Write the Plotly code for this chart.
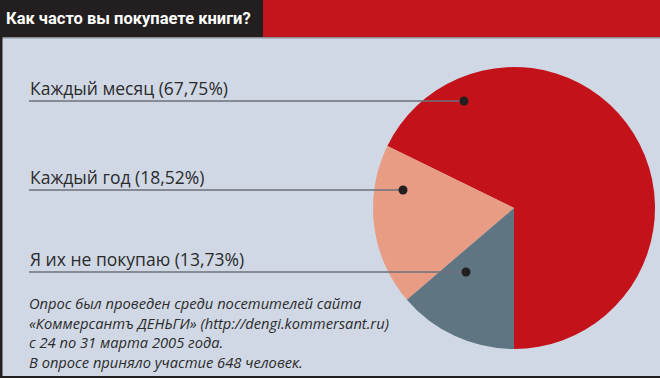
import plotly.graph_objects as go

W, H = 660, 378

# ---- data ----
categories = ["Каждый месяц", "Каждый год", "Я их не покупаю"]
values = [67.75, 18.52, 13.73]
slice_colors = ["#c4121b", "#e89c84", "#5f7582"]
title_text = "Как часто вы покупаете книги?"
note_lines = [
    "Опрос был проведен среди посетителей сайта",
    "«Коммерсантъ ДЕНЬГИ» (http://dengi.kommersant.ru)",
    "с 24 по 31 марта 2005 года.",
    "В опросе приняло участие 648 человек.",
]

# ---- layout helpers (pixel -> paper) ----
def px(x):
    return x / W

def py(y):
    return 1 - y / H

BG = "#d0d8e5"
DARK = "#231f20"
RED = "#c4141c"
LABEL_FONT = "Open Sans, Liberation Sans, Arial, sans-serif"

cx, cy, r = 514, 208, 141

# first slice ends at 6 o'clock, slices run counterclockwise from its start
total = sum(values)
rotation = 180 - 360 * values[0] / total

fig = go.Figure()
fig.add_trace(go.Pie(
    labels=categories,
    values=values,
    marker=dict(colors=slice_colors, line=dict(width=0)),
    sort=False,
    direction="counterclockwise",
    rotation=rotation,
    textinfo="none",
    hoverinfo="label+percent",
    showlegend=False,
    domain=dict(x=[px(cx - r), px(cx + r)], y=[py(cy + r), py(cy - r)]),
))

shapes = []
# header
shapes.append(dict(type="rect", xref="paper", yref="paper", x0=0, x1=px(263), y0=py(37), y1=1,
                   fillcolor=DARK, line=dict(width=0), layer="below"))
shapes.append(dict(type="rect", xref="paper", yref="paper", x0=px(263), x1=1, y0=py(37), y1=1,
                   fillcolor=RED, line=dict(width=0), layer="below"))
shapes.append(dict(type="rect", xref="paper", yref="paper", x0=0, x1=1, y0=py(38.5), y1=py(37),
                   fillcolor="#8a8e96", line=dict(width=0), layer="below"))
# left and bottom borders
shapes.append(dict(type="rect", xref="paper", yref="paper", x0=0, x1=px(2.5), y0=0, y1=py(37),
                   fillcolor=DARK, line=dict(width=0)))
shapes.append(dict(type="rect", xref="paper", yref="paper", x0=0, x1=1, y0=0, y1=py(376),
                   fillcolor=DARK, line=dict(width=0)))

# leader lines and dots (label positions)
label_y = [88, 177, 259]
line_y = [101, 190, 272]
dot_x = [464, 403, 466]
line_x0 = 29

annotations = []
for cat, val, ly, ty, dx in zip(categories, values, line_y, label_y, dot_x):
    shapes.append(dict(type="line", xref="paper", yref="paper", x0=px(line_x0), x1=px(dx),
                       y0=py(ly), y1=py(ly), line=dict(color="#6e7177", width=1.6)))
    shapes.append(dict(type="circle", xref="paper", yref="paper", x0=px(dx - 4.5), x1=px(dx + 4.5),
                       y0=py(ly + 4.5), y1=py(ly - 4.5), fillcolor=DARK, line=dict(width=0)))
    txt = f"{cat} ({val:.2f}%)".replace(".", ",")
    annotations.append(dict(text=txt, xref="paper", yref="paper", x=px(28), y=py(ty),
                            xanchor="left", yanchor="middle", showarrow=False,
                            font=dict(family=LABEL_FONT, size=17.5, color="#2b2b2b")))

annotations.append(dict(text=f"<b>{title_text}</b>", xref="paper", yref="paper", x=px(4), y=py(19),
                        xanchor="left", yanchor="middle", showarrow=False,
                        font=dict(family="Roboto, sans-serif", size=16.5, color="white")))

note_y = [303, 323, 342, 362]
for line, ny in zip(note_lines, note_y):
    annotations.append(dict(text=f"<i>{line}</i>", xref="paper", yref="paper", x=px(27), y=py(ny),
                            xanchor="left", yanchor="middle", showarrow=False,
                            font=dict(family=LABEL_FONT, size=14.7, color="#2b2b2b")))

fig.update_layout(
    width=W, height=H,
    margin=dict(l=0, r=0, t=0, b=0),
    paper_bgcolor=BG, plot_bgcolor=BG,
    shapes=shapes, annotations=annotations,
    showlegend=False,
)

fig.write_html("out.html", config={"displayModeBar": False},
               post_script="document.body.style.margin='0';document.body.style.padding='0';")
